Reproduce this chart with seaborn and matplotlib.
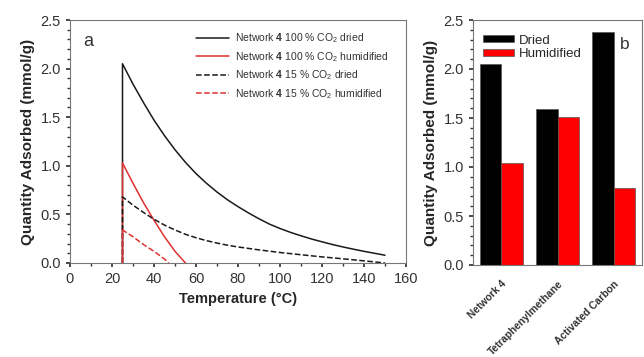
import numpy as np
import pandas as pd
import matplotlib
matplotlib.use("Agg")
import matplotlib.pyplot as plt
import seaborn as sns
from matplotlib.ticker import MultipleLocator, AutoMinorLocator

sns.set_theme(style="white")
plt.rcParams['font.family'] = ['Liberation Sans', 'DejaVu Sans']
plt.rcParams['mathtext.fontset'] = 'custom'
plt.rcParams['mathtext.rm'] = 'Liberation Sans'
plt.rcParams['mathtext.bf'] = 'Liberation Sans:bold'

# ---- Panel a data ----
t_dry100 = [25, 25, 30, 35, 40, 45, 50, 55, 60, 65, 70, 75, 80, 85, 90, 95, 100,
            105, 110, 115, 120, 125, 130, 135, 140, 145, 150]
q_dry100 = [0.0, 2.05, 1.84, 1.65, 1.47, 1.31, 1.165, 1.035, 0.92, 0.82, 0.73, 0.65, 0.58,
            0.515, 0.455, 0.40, 0.355, 0.315, 0.28, 0.247, 0.218, 0.19, 0.165, 0.142, 0.12, 0.10, 0.08]
t_hum100 = [25, 25, 30, 35, 40, 45, 50, 55]
q_hum100 = [0.0, 1.03, 0.82, 0.62, 0.44, 0.27, 0.12, 0.0]
t_dry15 = [25, 25, 30, 35, 40, 45, 50, 55, 60, 65, 70, 75, 80, 90, 100, 110, 120, 130, 140, 150]
q_dry15 = [0.0, 0.68, 0.595, 0.52, 0.45, 0.39, 0.34, 0.295, 0.26, 0.23, 0.205, 0.183, 0.165,
           0.135, 0.108, 0.085, 0.063, 0.043, 0.022, 0.0]
t_hum15 = [25, 25, 30, 35, 40, 45, 47]
q_hum15 = [0.0, 0.34, 0.27, 0.19, 0.12, 0.04, 0.0]

labels_a = [r"Network $\mathbf{4}$ 100 % CO$_2$ dried",
            r"Network $\mathbf{4}$ 100 % CO$_2$ humidified",
            r"Network $\mathbf{4}$ 15 % CO$_2$ dried",
            r"Network $\mathbf{4}$ 15 % CO$_2$ humidified"]

# ---- Panel b data ----
materials = ["Network 4", "Tetraphenylmethane", "Activated Carbon"]
dried = [2.05, 1.59, 2.38]
humidified = [1.04, 1.51, 0.79]

fig = plt.figure(figsize=(6.44, 3.57), dpi=100)
ax1 = fig.add_axes([70/644, 1-263/357, 336/644, 243/357])
ax2 = fig.add_axes([473/644, 1-265/357, 169/644, 245/357])

series = [(t_dry100, q_dry100, "#1a1a1a", "-"),
          (t_hum100, q_hum100, "#e03030", "-"),
          (t_dry15, q_dry15, "#1a1a1a", "--"),
          (t_hum15, q_hum15, "#e03030", "--")]
for (t, q, c, ls), lab in zip(series, labels_a):
    sns.lineplot(x=t, y=q, ax=ax1, color=c, linestyle=ls, lw=1.1,
                 sort=False, estimator=None, label=lab)

ax1.set_xlim(0, 160)
ax1.set_ylim(0, 2.5)
ax1.xaxis.set_major_locator(MultipleLocator(20))
ax1.yaxis.set_major_locator(MultipleLocator(0.5))
ax1.xaxis.set_minor_locator(AutoMinorLocator(2))
ax1.yaxis.set_minor_locator(AutoMinorLocator(5))
ax1.tick_params(which='both', direction='out', bottom=True, left=True, labelsize=10.5, colors='#333333')
ax1.tick_params(which='major', length=3)
ax1.tick_params(which='minor', length=2)
ax1.set_xlabel("Temperature (°C)", fontsize=10.5, fontweight='bold', labelpad=4)
ax1.set_ylabel("Quantity Adsorbed (mmol/g)", fontsize=11, fontweight='bold', labelpad=4)
leg = ax1.legend(loc='upper right', bbox_to_anchor=(1 - 9/336, 1 - 3/243), frameon=False,
                 fontsize=7.5, handlelength=3.2, borderaxespad=0.4, labelspacing=0.45,
                 handletextpad=0.6)
for txt in leg.get_texts():
    txt.set_color('#333333')
ax1.text(0.04, 0.945, "a", transform=ax1.transAxes, fontsize=13, va='top', color='#333333')

df = pd.DataFrame({
    "Material": materials * 2,
    "Value": dried + humidified,
    "Condition": ["Dried"] * 3 + ["Humidified"] * 3,
})
sns.barplot(data=df, x="Material", y="Value", hue="Condition", ax=ax2,
            palette=["#000000", "#ff0000"], width=0.76, edgecolor="#555555", linewidth=0.5,
            saturation=1)
ax2.set_xlim(-0.5, 2.5)
ax2.set_ylim(0, 2.5)
ax2.yaxis.set_major_locator(MultipleLocator(0.5))
ax2.yaxis.set_minor_locator(AutoMinorLocator(5))
ax2.tick_params(axis='y', which='both', direction='out', left=True, labelsize=10.5, colors='#333333')
ax2.tick_params(axis='y', which='major', length=3)
ax2.tick_params(axis='y', which='minor', length=2)
ax2.tick_params(axis='x', bottom=False, labelsize=7.4, colors='#333333', pad=4)
ax2.set_xticks(range(3))
ax2.set_xticklabels(materials, rotation=45, ha='right', rotation_mode='anchor', fontweight='bold')
ax2.set_xlabel("")
ax2.set_ylabel("Quantity Adsorbed (mmol/g)", fontsize=11, fontweight='bold', labelpad=4)
leg2 = ax2.legend(loc='upper left', bbox_to_anchor=(-0.025, 1.0), frameon=False, fontsize=9.5,
                  handlelength=2.3, handleheight=0.45, borderaxespad=0.5, labelspacing=0.1,
                  handletextpad=0.4, borderpad=0.6)
ax2.text(0.9, 0.93, "b", transform=ax2.transAxes, fontsize=12.5, va='top', ha='center', color='#333333')

for ax in (ax1, ax2):
    for s in ax.spines.values():
        s.set_color('#777777')
        s.set_linewidth(0.8)

fig.savefig("out.png", dpi=100, facecolor='white')
